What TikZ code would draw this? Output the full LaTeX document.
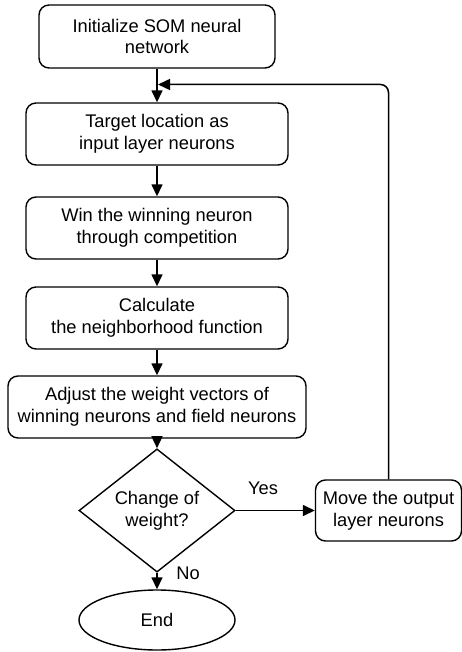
\documentclass[tikz,border=0pt]{standalone}
\usepackage{fontspec}
\setmainfont{Liberation Sans}
\usetikzlibrary{shapes.geometric,arrows.meta}
\tikzset{
  every node/.style={font=\fontsize{18.3}{21.7}\selectfont, align=center, inner sep=0pt},
  proc/.style={draw, line width=1.4pt, rounded corners=10pt, minimum height=62pt},
  dec/.style={draw, diamond, line width=1.4pt, minimum width=156pt, minimum height=97pt},
  term/.style={draw, ellipse, line width=1.4pt, minimum width=156pt, minimum height=60pt},
  conn/.style={line width=1.5pt, -{Triangle[length=12pt,width=11pt]}},
  lbl/.style={font=\fontsize{18.3}{21.7}\selectfont}
}
\begin{document}
\begin{tikzpicture}[x=1pt,y=-1pt]
\useasboundingbox (0,0) rectangle (462,652);
\node[proc, minimum width=236pt, minimum height=63pt] (init) at (157,36.5) {Initialize SOM neural\\network};
\node[proc, minimum width=262pt] (target) at (157,134) {Target location as\\input layer neurons};
\node[proc, minimum width=262pt] (win) at (157,228) {Win the winning neuron\\through competition};
\node[proc, minimum width=262pt] (calc) at (157,318) {Calculate\\the neighborhood function};
\node[proc, minimum width=298pt] (adjust) at (157,407) {Adjust the weight vectors of\\winning neurons and field neurons};
\node[dec] (chg) at (157,510.5) {Change of\\weight?};
\node[proc, minimum width=146pt, minimum height=61pt] (move) at (388.5,510.5) {Move the output\\layer neurons};
\node[term] (end) at (157,620) {End};
\coordinate (join) at (158,84.5);
\draw[conn] (init) -- (target);
\draw[conn] (target) -- (win);
\draw[conn] (win) -- (calc);
\draw[conn] (calc) -- (adjust);
\draw[conn] (adjust) -- (chg);
\draw[conn] (chg) -- (move);
\draw[conn] (chg) -- (end);
\draw[conn, rounded corners=8pt] (move.north) |- (join);
\node[lbl] (yes) at (263,488) {Yes};
\node[lbl] (no) at (188,573) {No};
\end{tikzpicture}
\end{document}
